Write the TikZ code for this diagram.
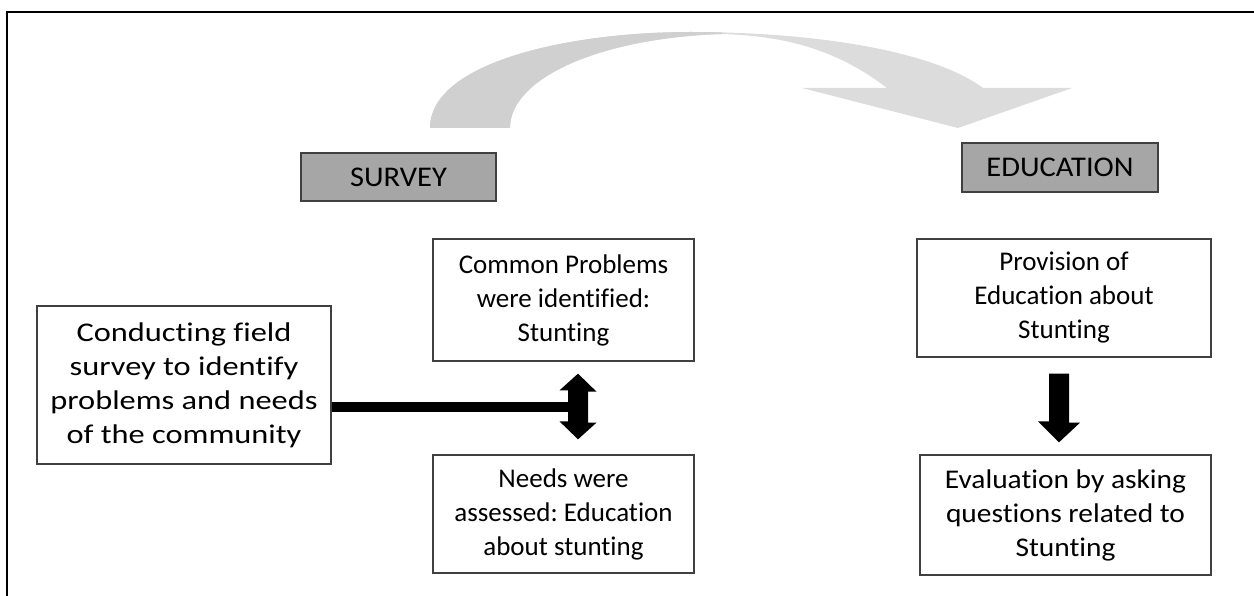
\documentclass[tikz,border=0pt]{standalone}
\usepackage{fontspec}
\setmainfont{Carlito}[Ligatures=NoCommon]
\newfontfamily\wideA{Carlito}[Ligatures=NoCommon, FakeStretch=1.2]
\newfontfamily\wideB{Carlito}[Ligatures=NoCommon, FakeStretch=1.09]
\newfontfamily\wideH{Carlito}[Ligatures=NoCommon, FakeStretch=1.07]
\definecolor{boxline}{HTML}{404040}
\definecolor{headfill}{HTML}{A6A6A6}
\definecolor{arcdark}{HTML}{D0D0D0}
\definecolor{arclight}{HTML}{DCDCDC}
\frenchspacing
\begin{document}
\begin{tikzpicture}[x=1pt,y=-1pt,
  txt/.style={font=\fontsize{27}{34}\selectfont, align=center, inner sep=0pt},
  plainbox/.style={txt, draw=boxline, line width=1.3pt, fill=white},
  headbox/.style={draw=boxline, line width=1.3pt, fill=headfill, inner sep=0pt,
    font=\wideH\fontsize{28.5}{34}\selectfont},
]
\useasboundingbox (0,0) rectangle (1254,596);
% frame
\draw[line width=2pt] (7,596) -- (7,12) -- (1254,12);

% curved arrow
\def\arcpath{(430,128) .. controls (430,62) and (570,32) .. (690,32)
  .. controls (820,32) and (935,52) .. (983,88)
  -- (1072,88) -- (958,128) -- (802,88) -- (887,88)
  .. controls (840,52) and (790,36) .. (722,34)
  .. controls (600,38) and (510,78) .. (510,128) -- cycle}
\path[fill=arclight] \arcpath;
\begin{scope}
  \clip (420,20) rectangle (722,135);
  \path[fill=arcdark] \arcpath;
\end{scope}

% nodes
\node[headbox, minimum width=195pt, minimum height=48pt] (survey) at (398.5,177) {SURVEY};
\node[headbox, minimum width=196pt, minimum height=49pt] (educ) at (1060,167.5) {EDUCATION};
\node[plainbox, font=\wideA\fontsize{27}{34}\selectfont,
  minimum width=294pt, minimum height=158pt] (field) at (184,385)
  {Conducting field\\survey to identify\\problems and needs\\of the community};
\node[plainbox, minimum width=261pt, minimum height=122pt] (common) at (563.5,300)
  {Common Problems\\were identified:\\Stunting};
\node[plainbox, minimum width=261pt, minimum height=118pt] (needs) at (563.5,514)
  {Needs were\\assessed: Education\\about stunting};
\node[plainbox, minimum width=294pt, minimum height=118pt] (prov) at (1064,298)
  {Provision of\\Education about\\Stunting};
\node[plainbox, font=\wideB\fontsize{27}{34}\selectfont,
  minimum width=291pt, minimum height=120pt] (eval) at (1065.5,515)
  {Evaluation by asking\\questions related to\\Stunting};

% double arrow between common and needs
\coordinate (dbl) at (578,407);
\draw[line width=10pt] (field.east |- dbl) -- (dbl);
\fill ([yshift=-12pt]common.south -| dbl) -- ++(18.5,18) -- ++(-8.5,0) -- ++(0,31)
  -- ++(8.5,0) -- ([yshift=15pt]needs.north -| dbl) -- ++(-18.5,-18) -- ++(8.5,0)
  -- ++(0,-31) -- ++(-8.5,0) -- cycle;

% down arrow from provision to evaluation
\coordinate (dn) at (1059,400);
\fill ([yshift=-16pt]prov.south -| dn) ++(-10,0) -- ++(20,0) -- ++(0,49) -- ++(11,0)
  -- ([yshift=12pt]eval.north -| dn) -- ++(-21,-21) -- ++(11,0) -- cycle;
\end{tikzpicture}
\end{document}
